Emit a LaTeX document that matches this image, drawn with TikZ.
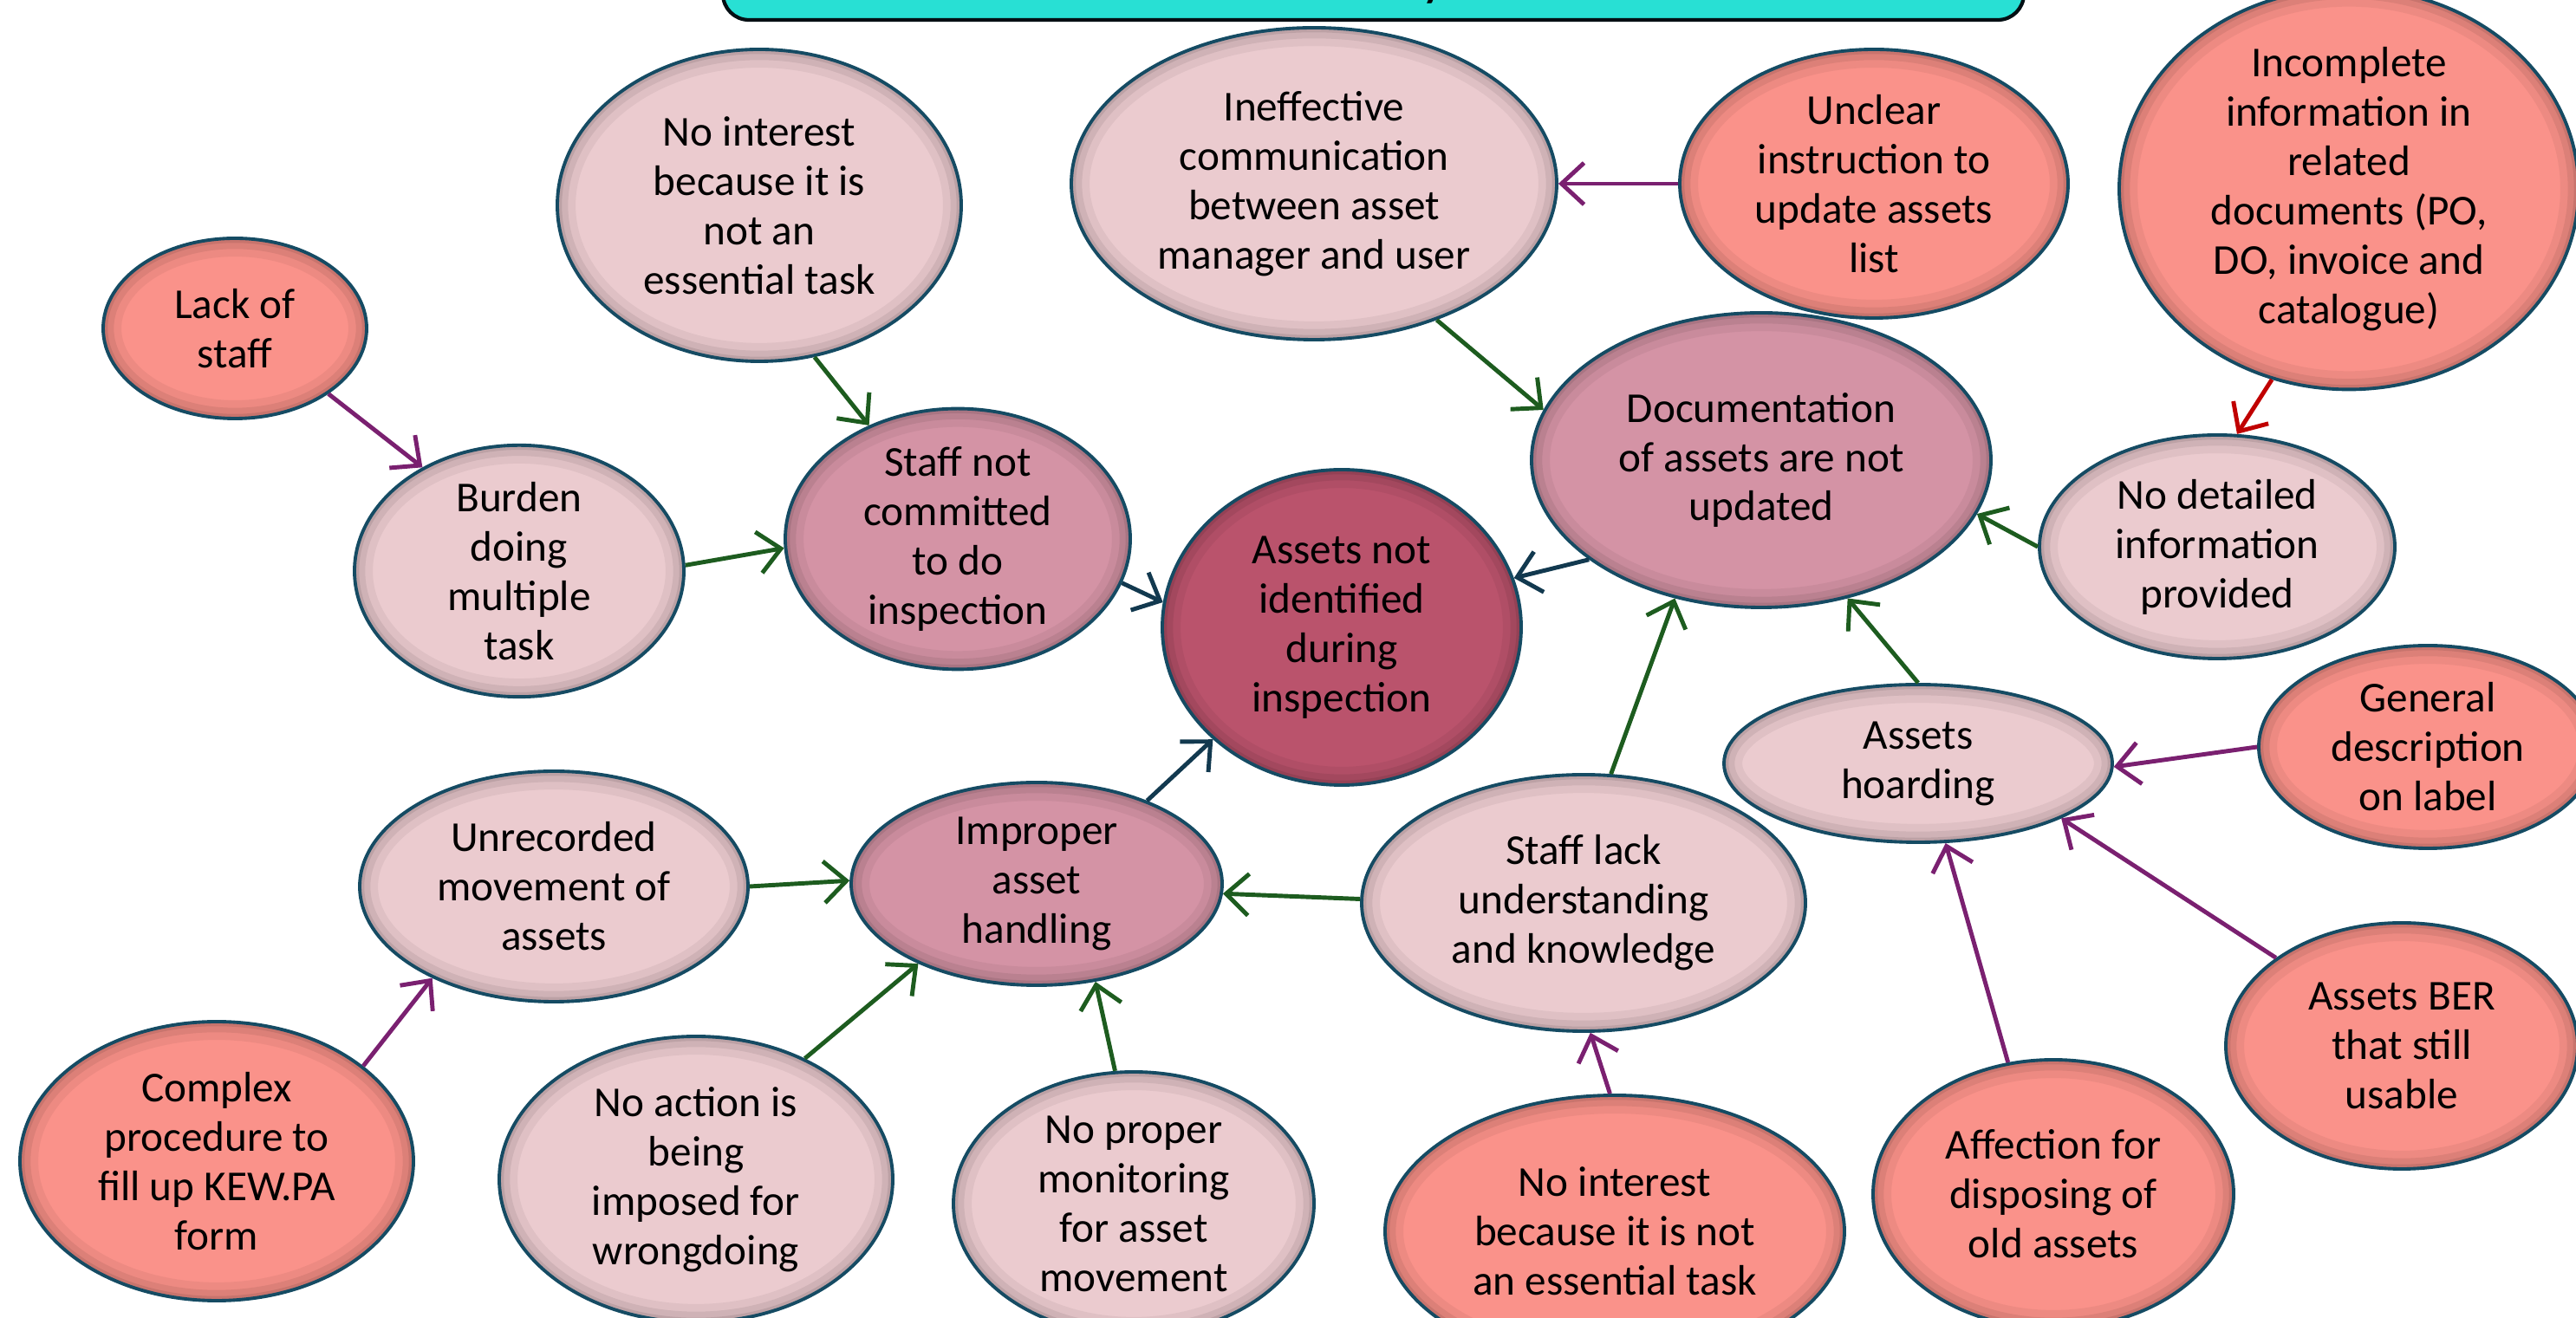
\documentclass[tikz,border=0pt]{standalone}
\usepackage{fontspec}
\setmainfont{Carlito}
\usetikzlibrary{shapes.geometric,arrows.meta,calc}

\definecolor{rootfill}{HTML}{FA928A}
\definecolor{lightfill}{HTML}{EBCBCF}
\definecolor{midfill}{HTML}{D493A5}
\definecolor{corefill}{HTML}{BA536C}
\definecolor{rim}{HTML}{154B63}
\definecolor{greenarrow}{HTML}{1D5C1F}
\definecolor{purplearrow}{HTML}{7A2070}
\definecolor{navyarrow}{HTML}{12394F}
\definecolor{redarrow}{HTML}{C00000}
\definecolor{banner}{HTML}{28E0D4}

\begin{document}
\begin{tikzpicture}[
    innershade/.style={path picture={
        \foreach \w/\o in {12pt/0.05, 7pt/0.07, 3pt/0.09}
            \draw[line width=\w, black, opacity=\o]
                let \p1=(path picture bounding box.north east),
                    \p2=(path picture bounding box.south west) in
                (path picture bounding box.center) ellipse ({(\x1-\x2)/2} and {(\y1-\y2)/2});
    }},
    cause/.style={ellipse, draw=rim, line width=1.1pt, align=center, inner sep=0pt,
        innershade, font=\fontsize{14}{16.2}\selectfont},
    rootcause/.style={cause, fill=rootfill},
    lightcause/.style={cause, fill=lightfill},
    midcause/.style={cause, fill=midfill},
    corecause/.style={cause, fill=corefill},
    link/.style={-{Straight Barb[length=2.6mm,width=4.8mm]}, line width=1.4pt},
    greenlink/.style={link, draw=greenarrow},
    purplelink/.style={link, draw=purplearrow},
    navylink/.style={link, draw=navyarrow},
    redlink/.style={link, draw=redarrow}
]
        \useasboundingbox (0,0) rectangle (29.72,15.21);

        % Banner
        \draw[fill=banner, draw=black!80!rim, line width=1.2pt, rounded corners=0.3cm]
            (8.34,14.98) rectangle (23.35,15.8);
        \node (title) [anchor=base, inner sep=0pt, font=\fontsize{19}{22}\selectfont] at (16.55,15.27) {y};

        % Nodes
        \node (lack) [rootcause, minimum width=3.04cm, minimum height=2.08cm] at (2.71, 11.42) {Lack of\\staff};
        \node (nointtop) [lightcause, minimum width=4.66cm, minimum height=3.60cm] at (8.76, 12.84) {No interest\\because it is\\not an\\essential task};
        \node (ineff) [lightcause, minimum width=5.60cm, minimum height=3.60cm] at (15.16, 13.09) {Ineffective\\communication\\between asset\\manager and user};
        \node (unclear) [rootcause, minimum width=4.48cm, minimum height=3.10cm] at (21.62, 13.09) {Unclear\\instruction to\\update assets\\list};
        \node (incompl) [rootcause, minimum width=5.30cm, minimum height=4.48cm] at (27.10, 13.03) {Incomplete\\information in\\related\\documents (PO,\\DO, invoice and\\catalogue)};
        \node (docu) [midcause, minimum width=5.30cm, minimum height=3.40cm] at (20.32, 9.90) {Documentation\\of assets are not\\updated};
        \node (nodetail) [lightcause, minimum width=4.10cm, minimum height=2.58cm] at (25.58, 8.90) {No detailed\\information\\provided};
        \node (burden) [lightcause, minimum width=3.80cm, minimum height=2.58cm] at (5.99, 8.62) {Burden\\doing\\multiple\\task};
        \node (notcomm) [midcause, minimum width=3.98cm, minimum height=2.84cm] at (11.05, 8.99) {Staff not\\committed\\to do\\inspection};
        \node (core) [corecause, minimum width=4.14cm, minimum height=3.64cm] at (15.48, 7.97) {Assets not\\identified\\during\\inspection};
        \node (hoard) [lightcause, minimum width=4.48cm, minimum height=1.82cm] at (22.13, 6.40) {Assets\\hoarding};
        \node (general) [rootcause, minimum width=3.90cm, minimum height=2.34cm] at (28.01, 6.59) {General\\description\\on label};
        \node (unrec) [lightcause, minimum width=4.48cm, minimum height=2.66cm] at (6.39, 4.98) {Unrecorded\\movement of\\assets};
        \node (improper) [midcause, minimum width=4.28cm, minimum height=2.34cm] at (11.96, 5.01) {Improper\\asset\\handling};
        \node (lackknow) [lightcause, minimum width=5.12cm, minimum height=2.96cm] at (18.27, 4.79) {Staff lack\\understanding\\and knowledge};
        \node (ber) [rootcause, minimum width=4.06cm, minimum height=2.84cm] at (27.71, 3.14) {Assets BER\\that still\\usable};
        \node (complex) [rootcause, minimum width=4.54cm, minimum height=3.22cm] at (2.50, 1.81) {Complex\\procedure to\\fill up KEW.PA\\form};
        \node (noaction) [lightcause, minimum width=4.54cm, minimum height=3.30cm] at (8.03, 1.60) {No action is\\being\\imposed for\\wrongdoing};
        \node (nomonitor) [lightcause, minimum width=4.16cm, minimum height=3.04cm] at (13.08, 1.32) {No proper\\monitoring\\for asset\\movement};
        \node (nointbot) [rootcause, minimum width=5.30cm, minimum height=3.14cm] at (18.63, 1.00) {No interest\\because it is not\\an essential task};
        \node (affection) [rootcause, minimum width=4.16cm, minimum height=3.10cm] at (23.69, 1.43) {Affection for\\disposing of\\old assets};

        % Edges
        \draw[purplelink] (lack.-35) -- (burden.133);
        \draw[greenlink] (nointtop.-70) -- (notcomm.128);
        \draw[greenlink] (burden.2) -- (notcomm.-177);
        \draw[navylink] (notcomm.-15) -- (core.172);
        \draw[greenlink] (ineff.-48) -- (docu.167);
        \draw[purplelink] (unclear.180) -- (ineff.0);
        \draw[redlink] (incompl.-112) -- (nodetail.80);
        \draw[greenlink] (nodetail.180) -- (docu.-14);
        \draw[navylink] (docu.210) -- (core.16);
        \draw[greenlink] (hoard.90) -- (docu.-58);
        \draw[greenlink] (lackknow.78) -- (docu.-122);
        \draw[purplelink] (general.180) -- (hoard.-1);
        \draw[purplelink] (ber.145) -- (hoard.-21);
        \draw[purplelink] (affection.109) -- (hoard.-71);
        \draw[greenlink] (lackknow.179) -- (improper.-3);
        \draw[navylink] (improper.37) -- (core.221);
        \draw[greenlink] (unrec.0) -- (improper.179);
        \draw[purplelink] (complex.33) -- (unrec.-143);
        \draw[greenlink] (noaction.48) -- (improper.-146);
        \draw[greenlink] (nomonitor.98) -- (improper.-59);
        \draw[purplelink] (nointbot.92) -- (lackknow.-87);

\end{tikzpicture}
\end{document}
